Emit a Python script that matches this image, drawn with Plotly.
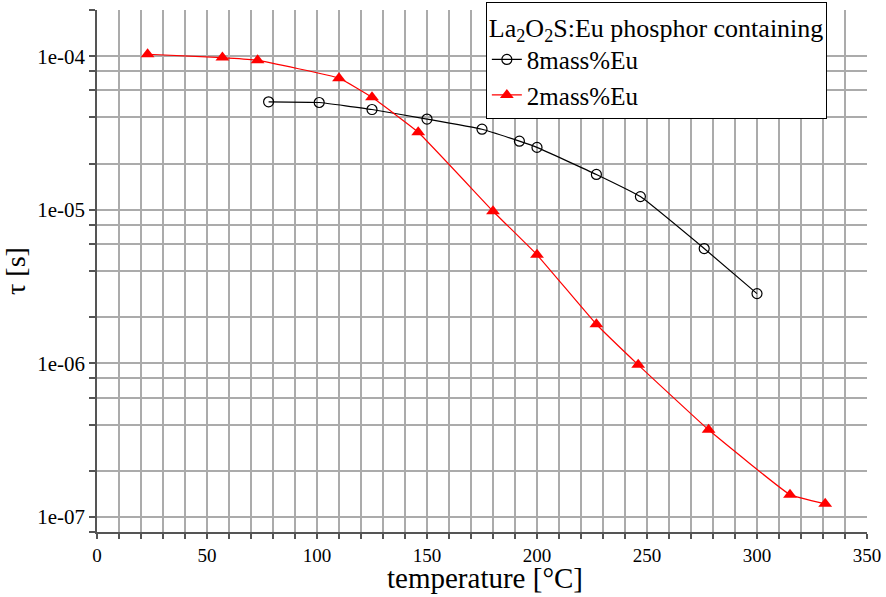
import plotly.graph_objects as go

# Decay time vs temperature for La2O2S:Eu phosphors
temp_8 = [78, 101, 125, 150, 175, 192, 200, 227, 247, 276, 300]
tau_8 = [5.05e-5, 5.0e-5, 4.5e-5, 3.9e-5, 3.35e-5, 2.8e-5, 2.55e-5, 1.7e-5, 1.22e-5, 5.6e-6, 2.85e-6]

temp_2 = [23, 57, 73, 110, 125, 146, 180, 200, 227, 246, 278, 315, 331]
tau_2 = [1.03e-4, 9.8e-5, 9.4e-5, 7.2e-5, 5.4e-5, 3.2e-5, 9.8e-6, 5.1e-6, 1.8e-6, 9.8e-7, 3.7e-7, 1.4e-7, 1.22e-7]

x_major = [0, 50, 100, 150, 200, 250, 300, 350]
x_minor = list(range(10, 350, 10))
y_major = [1e-7, 1e-6, 1e-5, 1e-4]
y_major_text = ["1e-07", "1e-06", "1e-05", "1e-04"]
y_minor = [8e-8] + [m * d for d in (1e-7, 1e-6, 1e-5) for m in (2, 4, 6, 8)] + [2e-4]

FONT = "'Liberation Serif', 'Times New Roman', Times, serif"
GRID = "#ababab"
AXIS = "#555555"

fig = go.Figure()
fig.add_trace(go.Scatter(
    x=temp_8, y=tau_8, name="8mass%Eu", mode="lines+markers",
    line=dict(color="black", width=1.2, shape="spline", smoothing=0.3),
    marker=dict(symbol="circle-open", size=10, color="black", line=dict(width=1.2)),
))
fig.add_trace(go.Scatter(
    x=temp_2, y=tau_2, name="2mass%Eu", mode="lines+markers",
    line=dict(color="red", width=1.2, shape="spline", smoothing=0.3),
    marker=dict(symbol="triangle-up", size=12, color="red"),
))

fig.update_layout(
    width=886, height=597,
    margin=dict(l=97, r=19, t=10, b=65, autoexpand=False),
    plot_bgcolor="white", paper_bgcolor="white",
    font=dict(family=FONT, color="black", size=20),
    legend=dict(
        title=dict(text="La<sub>2</sub>O<sub>2</sub>S:Eu phosphor containing",
                   font=dict(family=FONT, size=26)),
        font=dict(family=FONT, size=25),
        x=0.505, y=1.0155, xanchor="left", yanchor="top",
        bgcolor="white", bordercolor="black", borderwidth=1,
        tracegroupgap=0, itemwidth=30,
    ),
    xaxis=dict(
        range=[0, 350], tickmode="array", tickvals=x_major,
        ticktext=[str(v) for v in x_major], automargin=False,
        showgrid=True, gridcolor=GRID, gridwidth=1.5,
        showline=True, linecolor=AXIS, linewidth=1.5,
        ticks="outside", ticklen=5, tickcolor=AXIS, tickwidth=1.5,
        minor=dict(tickmode="array", tickvals=x_minor, showgrid=True,
                   gridcolor=GRID, gridwidth=1.5, ticks="outside",
                   ticklen=5, tickcolor=AXIS, tickwidth=1.5),
        tickfont=dict(family=FONT, size=19),
        zeroline=False,
    ),
    yaxis=dict(
        type="log", range=[-7.0969, -3.699], automargin=False,
        tickmode="array", tickvals=y_major, ticktext=y_major_text,
        showgrid=True, gridcolor=GRID, gridwidth=1.5,
        showline=True, linecolor=AXIS, linewidth=1.5,
        ticks="outside", ticklen=6, tickcolor=AXIS, tickwidth=1.5,
        minor=dict(tickmode="array", tickvals=y_minor, showgrid=True,
                   gridcolor=GRID, gridwidth=1.5, ticks="outside",
                   ticklen=6, tickcolor=AXIS, tickwidth=1.5),
        tickfont=dict(family=FONT, size=21),
        title=dict(text="τ [s]", font=dict(family=FONT, size=28), standoff=14),
        zeroline=False,
    ),
)

# x-axis title placed just under the tick labels
fig.add_annotation(
    text="temperature [°C]", xref="paper", yref="paper",
    x=0.504, y=-0.0875, xanchor="center", yanchor="middle",
    showarrow=False, font=dict(family=FONT, size=29, color="black"),
)

fig.write_html("out.html")
